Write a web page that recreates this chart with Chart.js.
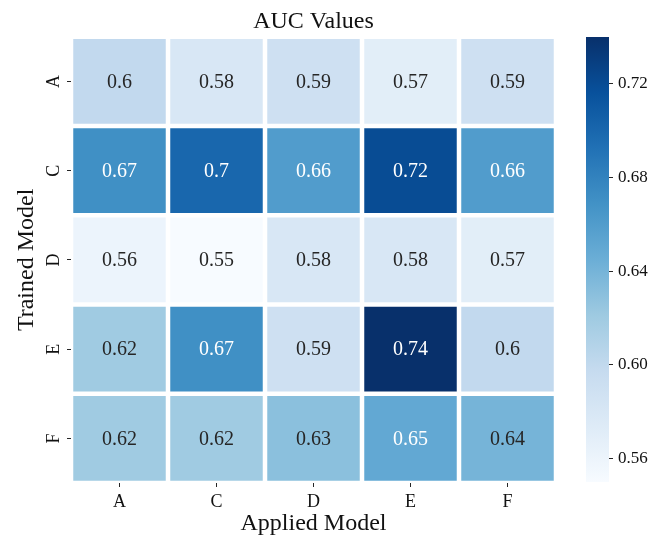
<!DOCTYPE html>
<html>
<head>
<meta charset="utf-8">
<script src="https://cdn.jsdelivr.net/npm/chart.js@4.4.0/dist/chart.umd.min.js"></script>
<style>
  html, body { margin: 0; padding: 0; background: #ffffff; }
  #wrap { position: relative; width: 671px; height: 538px; }
  #wrap canvas { position: absolute; left: 0; top: 0; }
</style>
</head>
<body>
<div id="wrap">
  <canvas id="heat" width="671" height="538"></canvas>
  <canvas id="cbar" width="671" height="538"></canvas>
</div>
<script>
// Model names along each axis
const appliedModels = ['A', 'C', 'D', 'E', 'F'];
const trainedModels = ['A', 'C', 'D', 'E', 'F'];

// AUC per trained model (row), one entry per applied model (column)
const aucA = [0.6, 0.58, 0.59, 0.57, 0.59];
const aucC = [0.67, 0.7, 0.66, 0.72, 0.66];
const aucD = [0.56, 0.55, 0.58, 0.58, 0.57];
const aucE = [0.62, 0.67, 0.59, 0.74, 0.6];
const aucF = [0.62, 0.62, 0.63, 0.65, 0.64];

// Colour scale range and colorbar tick labels
const colorMin = 0.55;
const colorMax = 0.74;
const colorbarTicks = [0.56, 0.60, 0.64, 0.68, 0.72];

const aucRows = [aucA, aucC, aucD, aucE, aucF];

const SERIF = '"Liberation Serif", "Times New Roman", serif';
const INK = '#262626';

// "Blues" sequential palette, evenly spaced stops
const BLUES = ['#f7fbff', '#deebf7', '#c6dbef', '#9ecae1', '#6baed6',
               '#4292c6', '#2171b5', '#08519c', '#08306b'];

function hexToRgb(h) {
  return [parseInt(h.slice(1, 3), 16), parseInt(h.slice(3, 5), 16), parseInt(h.slice(5, 7), 16)];
}
const BLUES_RGB = BLUES.map(hexToRgb);

function bluesRgb(v) {
  let t = (v - colorMin) / (colorMax - colorMin);
  t = Math.max(0, Math.min(1, t));
  const pos = t * (BLUES_RGB.length - 1);
  const k = Math.min(Math.floor(pos), BLUES_RGB.length - 2);
  const f = pos - k;
  const a = BLUES_RGB[k], b = BLUES_RGB[k + 1];
  return a.map((c, i) => c + (b[i] - c) * f);
}
function blues(v) {
  const [r, g, b] = bluesRgb(v);
  return `rgb(${Math.round(r)},${Math.round(g)},${Math.round(b)})`;
}
// light text on dark cells, dark text on light cells (relative luminance)
function labelColor(v) {
  const lin = bluesRgb(v).map(c => {
    c /= 255;
    return c <= 0.03928 ? c / 12.92 : Math.pow((c + 0.055) / 1.055, 2.4);
  });
  const lum = 0.2126 * lin[0] + 0.7152 * lin[1] + 0.0722 * lin[2];
  return lum > 0.408 ? INK : '#ffffff';
}

Chart.defaults.font.family = SERIF;
Chart.defaults.color = INK;

// Writes each cell's AUC at the centre of its rectangle
const cellLabels = {
  id: 'cellLabels',
  afterDatasetsDraw(chart) {
    const ctx = chart.ctx;
    ctx.save();
    ctx.font = '20px ' + SERIF;
    ctx.textAlign = 'center';
    ctx.textBaseline = 'middle';
    chart.data.datasets.forEach((ds, i) => {
      chart.getDatasetMeta(i).data.forEach((bar, j) => {
        const v = ds.auc[j];
        const p = bar.getCenterPoint();
        ctx.fillStyle = labelColor(v);
        ctx.fillText(String(v), p.x, p.y + 1);
      });
    });
    ctx.restore();
  }
};

// Heatmap: one floating-bar dataset per trained model, each bar spans one row
new Chart(document.getElementById('heat'), {
  type: 'bar',
  data: {
    labels: appliedModels,
    datasets: aucRows.map((vals, i) => ({
      label: trainedModels[i],
      auc: vals,
      data: vals.map(() => [i, i + 1]),
      backgroundColor: vals.map(blues),
      borderColor: '#ffffff',
      borderWidth: 2.25,
      borderSkipped: false,
      inflateAmount: 0,
      barPercentage: 1,
      categoryPercentage: 1,
      grouped: false
    }))
  },
  options: {
    responsive: false,
    animation: false,
    devicePixelRatio: 1,
    layout: { padding: { left: 0, right: 115, top: 0, bottom: 0 } },
    plugins: {
      legend: { display: false },
      tooltip: { enabled: false },
      title: {
        display: true,
        text: 'AUC Values',
        fullSize: false,
        color: '#111',
        font: { family: SERIF, size: 24, weight: 'normal', lineHeight: 1.2 },
        padding: { top: 7, bottom: 1 }
      }
    },
    scales: {
      x: {
        type: 'category',
        offset: true,
        grid: { display: true, offset: false, drawOnChartArea: false, drawTicks: true, tickLength: 4, color: INK, lineWidth: 1 },
        border: { display: false },
        ticks: { font: { family: SERIF, size: 18 }, color: '#111', padding: 4, maxRotation: 0 },
        title: {
          display: true,
          text: 'Applied Model',
          color: '#111',
          font: { family: SERIF, size: 24, lineHeight: 1.2 },
          padding: { top: 0, bottom: 0 }
        },
        afterFit(s) { s.height = 55; }
      },
      y: {
        type: 'linear',
        min: 0,
        max: trainedModels.length,
        reverse: true,
        afterBuildTicks(s) { s.ticks = trainedModels.map((_, i) => ({ value: i + 0.5 })); },
        grid: { display: true, drawOnChartArea: false, drawTicks: true, tickLength: 4, color: INK, lineWidth: 1 },
        border: { display: false },
        ticks: {
          font: { family: SERIF, size: 18 },
          color: '#111',
          padding: 6,
          minRotation: 90,
          maxRotation: 90,
          crossAlign: 'center',
          callback: (v, i) => trainedModels[i]
        },
        title: {
          display: true,
          text: 'Trained Model',
          color: '#111',
          font: { family: SERIF, size: 24, lineHeight: 1.2 },
          padding: { top: 12, bottom: 0 }
        },
        afterFit(s) { s.width = 71; }
      }
    }
  },
  plugins: [cellLabels]
});

// Colorbar: a single floating bar covering the colour range, filled with the palette
function colorbarFill(c) {
  const chart = c.chart;
  if (!chart.chartArea) return blues((colorMin + colorMax) / 2);
  const ys = chart.scales.y;
  const g = chart.ctx.createLinearGradient(0, ys.getPixelForValue(colorMin), 0, ys.getPixelForValue(colorMax));
  BLUES.forEach((col, k) => g.addColorStop(k / (BLUES.length - 1), col));
  return g;
}

new Chart(document.getElementById('cbar'), {
  type: 'bar',
  data: {
    labels: ['AUC'],
    datasets: [{
      data: [[colorMin, colorMax]],
      backgroundColor: colorbarFill,
      borderWidth: 0,
      inflateAmount: 0,
      barPercentage: 1,
      categoryPercentage: 1
    }]
  },
  options: {
    responsive: false,
    animation: false,
    devicePixelRatio: 1,
    layout: { padding: { left: 586, right: 0, top: 37, bottom: 56 } },
    plugins: { legend: { display: false }, tooltip: { enabled: false } },
    scales: {
      x: { display: false },
      y: {
        position: 'right',
        min: colorMin,
        max: colorMax,
        afterBuildTicks(s) { s.ticks = colorbarTicks.map(v => ({ value: v })); },
        grid: { display: true, drawOnChartArea: false, drawTicks: true, tickLength: 4, color: INK, lineWidth: 1 },
        border: { display: false },
        ticks: {
          font: { family: SERIF, size: 17 },
          color: '#111',
          padding: 5,
          callback: v => v.toFixed(2)
        },
        afterFit(s) { s.width = 62; }
      }
    }
  }
});
</script>
</body>
</html>
